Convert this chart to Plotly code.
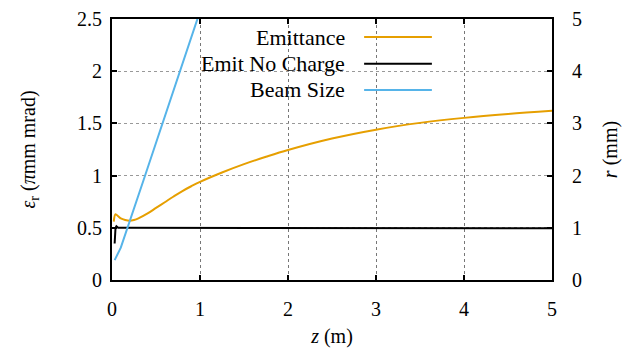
import plotly.graph_objects as go

# ---- data ----
z_emit = [0.02, 0.04, 0.07, 0.1, 0.15, 0.2, 0.25, 0.3, 0.4, 0.5, 0.6, 0.7, 0.8, 0.9,
          1.0, 1.25, 1.5, 1.75, 2.0, 2.5, 3.0, 3.5, 4.0, 4.5, 5.0]
emit = [0.56, 0.63, 0.61, 0.59, 0.575, 0.568, 0.575, 0.59, 0.635, 0.69, 0.745, 0.80, 0.852, 0.898,
        0.94, 1.03, 1.11, 1.18, 1.245, 1.355, 1.44, 1.505, 1.553, 1.59, 1.62]

z_nc = [0.03, 0.035, 0.04, 0.05, 0.07, 0.1, 0.5, 1.0, 2.0, 3.0, 4.0, 5.0]
emit_nc = [0.35, 0.42, 0.50, 0.515, 0.50, 0.50, 0.50, 0.50, 0.50, 0.50, 0.495, 0.495]

z_size = [0.03, 0.05, 0.1, 0.36, 0.576, 0.97, 1.05]
beam_size = [0.38, 0.45, 0.62, 1.92, 3.0, 5.0, 5.4]

x_ticks = [0, 1, 2, 3, 4, 5]
y_ticks = [0, 0.5, 1, 1.5, 2, 2.5]
y2_ticks = [0, 1, 2, 3, 4, 5]

names = ["Emittance", "Emit No Charge", "Beam Size"]
colors = ["#E69F00", "#000000", "#56B4E9"]

FONT = "Times New Roman"

fig = go.Figure()
fig.add_trace(go.Scatter(x=z_emit, y=emit, mode="lines", name=names[0],
                         line=dict(color=colors[0], width=2, shape="spline", smoothing=1.0),
                         showlegend=False))
fig.add_trace(go.Scatter(x=z_nc, y=emit_nc, mode="lines", name=names[1],
                         line=dict(color=colors[1], width=2), showlegend=False))
fig.add_trace(go.Scatter(x=z_size, y=beam_size, mode="lines", name=names[2], yaxis="y2",
                         line=dict(color=colors[2], width=2), showlegend=False))

# white legend box (hides grid) and gnuplot-style legend: text right-aligned, sample on the right
shapes = [dict(type="rect", xref="paper", yref="paper", x0=0.027, x1=0.764, y0=0.68, y1=1.0,
               fillcolor="white", line=dict(width=0), layer="between")]
annotations = []
rows = [0.931, 0.829, 0.728]
for name, col, yy in zip(names, colors, rows):
    annotations.append(dict(xref="paper", yref="paper", x=0.534, y=yy, text=name,
                            showarrow=False, xanchor="right", yanchor="middle",
                            font=dict(family=FONT, size=22, color="black")))
    shapes.append(dict(type="line", xref="paper", yref="paper", x0=0.573, x1=0.727,
                       y0=yy, y1=yy, line=dict(color=col, width=2), layer="above"))

axis_common = dict(showline=True, linecolor="black", linewidth=2, ticks="inside",
                   ticklen=5, tickwidth=2, tickcolor="black", zeroline=False,
                   automargin=False,
                   tickfont=dict(family=FONT, size=20, color="black"))

fig.update_layout(
    width=622, height=354,
    margin=dict(l=112, r=70, t=19, b=74),
    plot_bgcolor="white", paper_bgcolor="white",
    font=dict(family=FONT, size=20, color="black"),
    xaxis=dict(range=[0, 5], tickvals=x_ticks, mirror="ticks", showgrid=True,
               gridcolor="#777", griddash="dot", gridwidth=1, ticklabelstandoff=10,
               title=dict(text="<i>z</i> (m)", standoff=10,
                          font=dict(family=FONT, size=20)),
               **axis_common),
    yaxis=dict(range=[0, 2.5], tickvals=y_ticks, mirror=True, showgrid=True,
               gridcolor="#999", griddash="dot", gridwidth=1, ticklabelstandoff=4,
               title=dict(text="<i>ε</i><sub>r</sub> (<i>π</i>mm mrad)", standoff=36,
                          font=dict(family=FONT, size=20)),
               **axis_common),
    yaxis2=dict(range=[0, 5], tickvals=y2_ticks, overlaying="y", side="right",
                showgrid=False, ticklabelstandoff=14,
                title=dict(text="<i>r</i> (mm)", standoff=22,
                           font=dict(family=FONT, size=20)),
                **axis_common),
    shapes=shapes,
    annotations=annotations,
)

fig.write_html("out.html", config={"displayModeBar": False},
               post_script="document.body.style.margin='0';")
